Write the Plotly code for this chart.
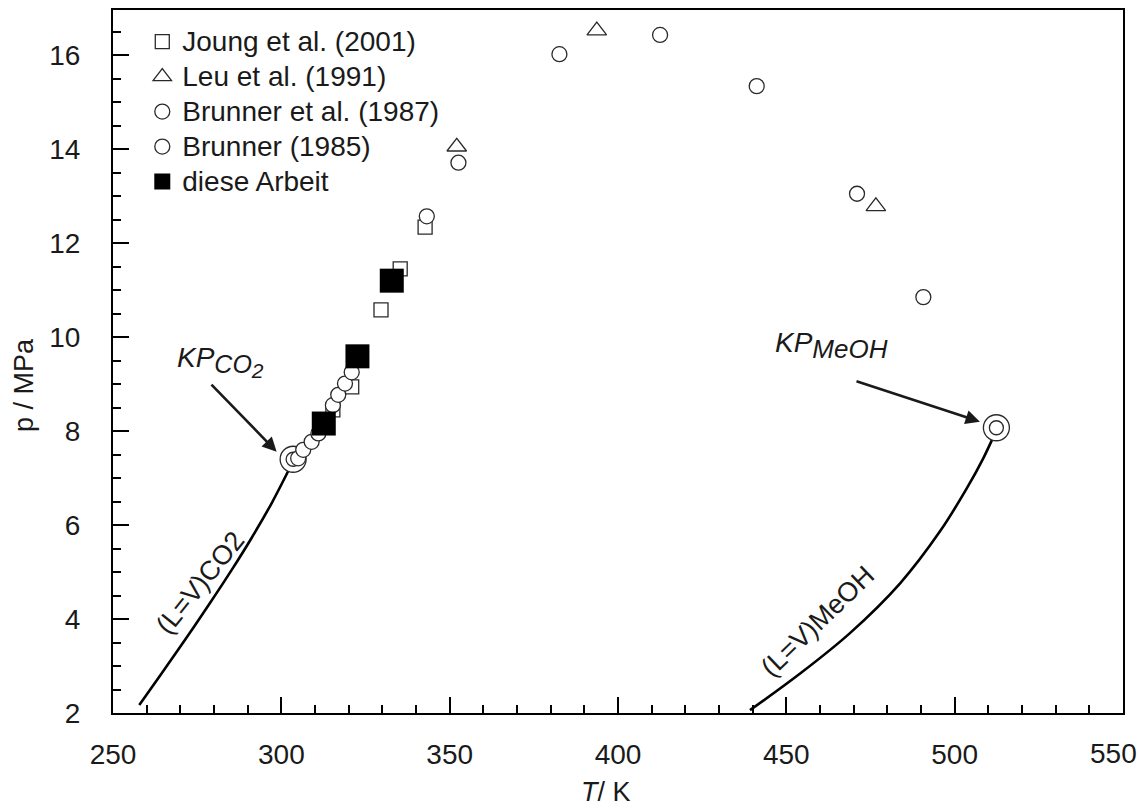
import plotly.graph_objects as go

# ---------------- data ----------------
joung_T = [315.3, 320.9, 329.6, 335.3, 342.7]
joung_p = [8.45, 8.94, 10.58, 11.45, 12.34]

leu_T = [352.1, 393.7, 476.6]
leu_p = [14.05, 16.52, 12.78]

brunner87_T = [343.2, 352.6, 382.6, 412.5, 441.2, 471.0, 490.7]
brunner87_p = [12.57, 13.71, 16.02, 16.43, 15.34, 13.05, 10.85]

brunner85_T = [305.0, 306.5, 309.0, 311.0, 315.3, 316.9, 318.9, 320.9]
brunner85_p = [7.42, 7.60, 7.77, 7.95, 8.55, 8.77, 9.01, 9.25]

this_T = [312.6, 322.6, 332.8]
this_p = [8.16, 9.59, 11.20]

crit_T = [303.5, 512.4]
crit_p = [7.40, 8.07]

co2_T = [257.8, 264.0, 271.4, 278.8, 285.3, 291.2, 297.3, 303.3]
co2_p = [2.17, 2.80, 3.56, 4.34, 5.05, 5.73, 6.49, 7.33]

meoh_T = [439.2, 454.1, 468.9, 483.8, 495.6, 503.6, 508.5, 512.4]
meoh_p = [2.06, 2.84, 3.70, 4.76, 5.86, 6.78, 7.42, 8.02]

x_ticks = [250, 300, 350, 400, 450, 500, 550]
x_ticktext = ["250", "300", "350", "400", "450", "500", ""]   # last label placed flush with the edge below
x_last_label = "550"
y_ticks = [2, 4, 6, 8, 10, 12, 14, 16]

FONT = "Arial, Liberation Sans, sans-serif"
EDGE = "#2a2a2a"
TXT = "#1a1a1a"


def big(s):
    return "<span style='font-size:28px'>" + s + "</span>"


fig = go.Figure()

# vapour pressure curves
fig.add_trace(go.Scatter(x=co2_T, y=co2_p, mode="lines",
                         line=dict(color="black", width=2.6, shape="spline", smoothing=1.0),
                         showlegend=False, hoverinfo="skip"))
fig.add_trace(go.Scatter(x=meoh_T, y=meoh_p, mode="lines",
                         line=dict(color="black", width=2.6, shape="spline", smoothing=1.0),
                         showlegend=False, hoverinfo="skip"))

# critical points (double circles)
fig.add_trace(go.Scatter(x=crit_T, y=crit_p, mode="markers", showlegend=False,
                         marker=dict(symbol="circle", size=26, color="white", line=dict(color=EDGE, width=1.3))))
fig.add_trace(go.Scatter(x=crit_T, y=crit_p, mode="markers", showlegend=False,
                         marker=dict(symbol="circle", size=14, color="white", line=dict(color=EDGE, width=1.3))))

# literature data
fig.add_trace(go.Scatter(x=joung_T, y=joung_p, mode="markers", name=big("Joung et al. (2001)"),
                         marker=dict(symbol="square", size=14, color="white", line=dict(color=EDGE, width=1.3))))
fig.add_trace(go.Scatter(x=leu_T, y=leu_p, mode="markers", name=big("Leu et al. (1991)"),
                         marker=dict(symbol="triangle-up", size=17, color="white", line=dict(color=EDGE, width=1.3))))
fig.add_trace(go.Scatter(x=brunner87_T, y=brunner87_p, mode="markers", name=big("Brunner et al. (1987)"),
                         marker=dict(symbol="circle", size=15, color="white", line=dict(color=EDGE, width=1.3))))
fig.add_trace(go.Scatter(x=brunner85_T, y=brunner85_p, mode="markers", name=big("Brunner (1985)"),
                         marker=dict(symbol="circle", size=15, color="white", line=dict(color=EDGE, width=1.3))))
# this work
fig.add_trace(go.Scatter(x=this_T, y=this_p, mode="markers", name=big("diese Arbeit"),
                         marker=dict(symbol="square", size=24, color="black", line=dict(color="black", width=0))))

# arrows
fig.add_annotation(x=298.6, y=7.56, ax=278.8, ay=9.02, xref="x", yref="y", axref="x", ayref="y",
                   text="", showarrow=True, arrowhead=2, arrowsize=1.1, arrowwidth=2.6, arrowcolor=TXT)
fig.add_annotation(x=507.5, y=8.20, ax=470.4, ay=9.07, xref="x", yref="y", axref="x", ayref="y",
                   text="", showarrow=True, arrowhead=2, arrowsize=1.1, arrowwidth=2.6, arrowcolor=TXT)

# labels
fig.add_annotation(x=282.0, y=9.47, xref="x", yref="y", showarrow=False, xanchor="center", yanchor="middle",
                   text="<i>KP<sub><span style='font-size:25px'>CO<sub><span style='font-size:21px'>2</span></sub></span></sub></i>",
                   font=dict(family=FONT, size=28, color=TXT))
fig.add_annotation(x=463.3, y=9.83, xref="x", yref="y", showarrow=False, xanchor="center", yanchor="middle",
                   text="<i>KP<sub><span style='font-size:26px'>MeOH</span></sub></i>",
                   font=dict(family=FONT, size=28, color=TXT))
fig.add_annotation(x=275.8, y=4.77, xref="x", yref="y", showarrow=False, textangle=-51,
                   xanchor="center", yanchor="middle",
                   text="(L=V)CO2", font=dict(family=FONT, size=27, color=TXT))
fig.add_annotation(x=459.4, y=3.96, xref="x", yref="y", showarrow=False, textangle=-44,
                   xanchor="center", yanchor="middle",
                   text="(L=V)MeOH", font=dict(family=FONT, size=27, color=TXT))

# last x tick label, kept inside the page
fig.add_annotation(x=1.0155, y=-0.0583, xref="paper", yref="paper", showarrow=False,
                   xanchor="right", yanchor="middle", text=x_last_label,
                   font=dict(family=FONT, size=28, color=TXT))

# axis titles
fig.add_annotation(x=-0.0881, y=0.4666, xref="paper", yref="paper", showarrow=False, textangle=-90,
                   xanchor="center", yanchor="middle",
                   text="p / MPa", font=dict(family=FONT, size=27, color=TXT))
fig.add_annotation(x=0.488, y=-0.1124, xref="paper", yref="paper", showarrow=False,
                   xanchor="center", yanchor="middle",
                   text="<i>T</i>/ K", font=dict(family=FONT, size=27, color=TXT))

fig.update_xaxes(range=[249.99, 550.01], tickvals=x_ticks, ticktext=x_ticktext, ticks="inside", ticklen=16,
                 tickwidth=2, tickcolor="black", automargin=False,
                 minor=dict(dtick=10, tick0=250, ticks="inside", ticklen=8, tickwidth=1.6, tickcolor="black"),
                 showline=True, linewidth=2.2, linecolor="black", mirror=True, showgrid=False, zeroline=False,
                 tickfont=dict(family=FONT, size=28, color=TXT), ticklabelstandoff=15)
fig.update_yaxes(range=[2, 16.96], tickvals=y_ticks, ticks="inside", ticklen=16, tickwidth=2, tickcolor="black",
                 automargin=False,
                 minor=dict(dtick=0.5, tick0=2, ticks="inside", ticklen=8, tickwidth=1.6, tickcolor="black"),
                 showline=True, linewidth=2.2, linecolor="black", mirror=True, showgrid=False, zeroline=False,
                 tickfont=dict(family=FONT, size=28, color=TXT), ticklabelstandoff=25)

fig.update_layout(
    width=1139, height=809,
    margin=dict(l=113, r=16, t=10, b=96, autoexpand=False),
    paper_bgcolor="white", plot_bgcolor="white",
    font=dict(family=FONT, color=TXT),
    legend=dict(x=0.029, y=0.987, xanchor="left", yanchor="top", bgcolor="rgba(0,0,0,0)",
                font=dict(family=FONT, size=24.6, color=TXT), tracegroupgap=0, itemsizing="trace"),
)

fig.write_html("out.html")
